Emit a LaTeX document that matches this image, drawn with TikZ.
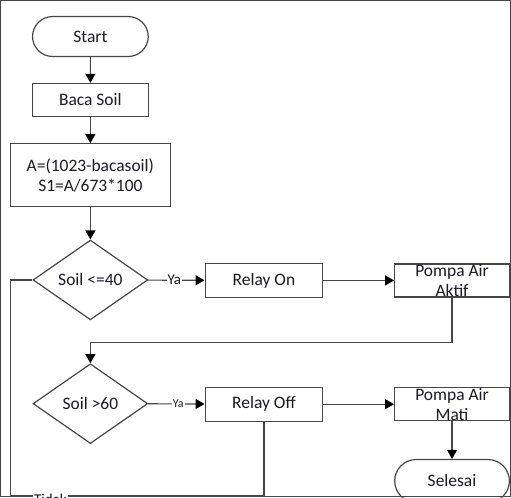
\documentclass[tikz,border=0pt]{standalone}
\usepackage{fontspec}
\setmainfont{Carlito}
\usetikzlibrary{arrows.meta}
\usetikzlibrary{shapes}
\tikzset{
        flownode/.style={align=center,inner sep=0pt,draw=linegray,line width=1.2pt,text=textdark,font=\fontsize{17.5}{20}\selectfont},
        % Start / end
        node_terminal/.style={flownode, rounded rectangle, minimum width=116pt, minimum height=40pt},
        % Processes
        node_process/.style={flownode, rectangle, minimum width=116pt, minimum height=33pt},
        % Boxes whose text runs over the edges
        node_pompa/.style={node_process, minimum width=115pt, inner ysep=-3pt},
        % Decisions
        node_decision/.style={flownode, diamond, minimum width=115pt, minimum height=80pt},
        % Labels on connectors
        node_label/.style={fill=white, inner sep=1pt, text=textdark}
}
\definecolor{linegray}{RGB}{70,70,70}
\definecolor{textdark}{RGB}{25,25,40}

\begin{document}
\begin{tikzpicture}[
            x=1pt, y=-1pt,
            ->, >={Triangle[length=9pt,width=10pt,color=black]},
            every path/.style={draw=linegray, line width=1.2pt}
        ]
            \useasboundingbox (0,0) rectangle (511,497);
            \node[node_terminal] (start) at (90,36) {Start};
            \node[node_process] (baca) at (90,99.5) {Baca Soil};
            \node[node_process, minimum width=160pt, minimum height=63pt] (hitung) at (90,175) {A=(1023-bacasoil)\\S1=A/673*100};
            \node[node_decision] (cek1) at (90,280) {Soil <=40};
            \node[node_process, minimum width=118pt, minimum height=34pt] (relayon) at (264,280.5) {Relay On};
            \node[node_pompa] (aktif) at (452.5,280.5) {Pompa Air\\Aktif};
            \node[node_decision] (cek2) at (90,404) {Soil >60};
            \node[node_process, minimum width=118pt, minimum height=34pt] (relayoff) at (264,404.5) {Relay Off};
            \node[node_pompa] (mati) at (452.5,404.5) {Pompa Air\\Mati};
            \node[node_terminal, minimum width=115pt, minimum height=43pt] (selesai) at (452.5,481.5) {Selesai};
            \coordinate (pojok) at (10,496);

            \draw (start) -- (baca);
            \draw (baca) -- (hitung);
            \draw (hitung) -- (cek1);
            \draw (cek1) -- node[node_label, font=\fontsize{15}{17}\selectfont, xshift=-2pt]{Ya} (relayon);
            \draw (relayon) -- (aktif);
            \draw (aktif.south) |- ([yshift=21pt]cek2.north) -- (cek2.north);
            \draw (cek2) -- node[node_label, font=\fontsize{12}{14}\selectfont, xshift=2pt]{Ya} (relayoff);
            \draw (relayoff) -- (mati);
            \draw (mati) -- (selesai);
            \draw[-] (cek1.west) -| (pojok) -| (relayoff.south);
            \node[node_label, font=\fontsize{15}{17}\selectfont] (tidak) at (50,500) {Tidak};
        \end{tikzpicture}
\end{document}
